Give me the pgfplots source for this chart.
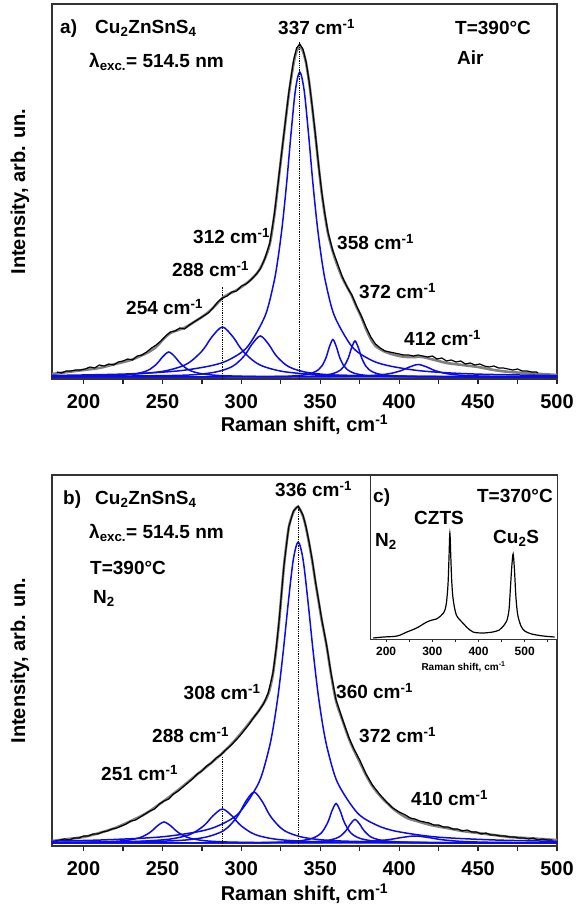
\documentclass[border=0pt]{standalone}
\usepackage{fontspec}
\setmainfont{Liberation Sans}
\usepackage{pgfplots}
\pgfplotsset{compat=1.18}
\newcommand{\fA}{\fontsize{20}{22}\selectfont\bfseries}
\newcommand{\fB}{\fontsize{19}{21}\selectfont\bfseries}
\newcommand{\fC}{\fontsize{12}{13}\selectfont\bfseries}
\newcommand{\fD}{\fontsize{10}{11}\selectfont\bfseries}
\newcommand{\cm}{cm\textsuperscript{-1}}
\definecolor{fitgray}{RGB}{128,128,128}
\definecolor{pblue}{RGB}{10,10,235}
\pgfplotsset{
  mainax/.style={
    scale only axis, width=505pt, xmin=180, xmax=500, ymin=0,
    ytick=\empty,
    xtick={200,250,...,500}, minor xtick={225,275,...,475},
    xtick pos=left, tick align=outside,
    major tick length=5pt, minor tick length=5pt,
    axis line style={line width=1.3pt, black!80},
    every tick/.style={black!85, line width=1.2pt},
    /pgf/number format/assume math mode=true,
    xticklabel style={font=\fA, anchor=base, yshift=-25pt},
    xlabel={Raman shift, \cm},
    ylabel={Intensity, arb. un.},
    label style={font=\fA},
    ylabel style={at={(axis description cs:-0.0634,0.5)}, anchor=center},
    clip=false,
  },
  comp/.style={pblue, line width=1.5pt, smooth},
  fit/.style={fitgray, line width=2.6pt, smooth},
  expt/.style={black, line width=1.2pt},
}
\begin{document}
\begin{tikzpicture}[x=1pt,y=1pt]
\path[use as bounding box] (0,0) rectangle (583,913);
% ---------------- panel a ----------------
\begin{axis}[mainax, at={(52pt,534pt)}, anchor=south west, height=375pt, ymax=375,
  xlabel style={at={(axis description cs:0.5,-0.141)}, anchor=base}]
\addplot[fit] coordinates {(180,5) (190,7) (200,9) (210,11) (220,15) (230,19) (240,26) (246,32) (250,39) (255,46) (260,49) (265,52) (270,57) (275,62) (280,68) (285,76) (288,81) (292,85) (296,88) (300,92) (305,98) (310,106) (314,117) (318,135) (321,165) (324,205) (327,245) (330,284) (333,315) (335,328) (337,332) (339,328) (341,316) (343,296) (345,270) (347,242) (349,212) (351,185) (353,163) (355,145) (358,127) (361,113) (364,101) (367,92) (370,83) (373,72) (376,62) (379,50) (382,40) (385,33) (390,28) (395,25) (400,23) (405,22) (410,22) (415,22) (420,20) (425,18) (430,16) (440,14) (450,12) (460,9) (470,7) (480,6) (490,5) (500,4)};
\addplot[expt] coordinates {(183,7) (186,6) (189,8) (192,8) (195,9) (198,9) (201,10) (204,12) (207,11) (210,14) (213,13) (216,15) (219,14) (222,17) (225,18) (228,20) (231,19) (234,23) (237,24) (240,27) (243,31) (246,34) (249,38) (252,43) (255,47) (258,48) (261,51) (264,50) (267,54) (270,57) (273,60) (276,63) (279,66) (282,71) (285,77) (288,81) (291,83) (294,87) (297,88) (300,93) (303,95) (306,99) (309,104) (312,110) (315,121) (318,136) (321,166) (324,206) (327,246) (330,286) (333,318) (335,331) (337,335) (339,330) (341,317) (343,297) (345,271) (347,243) (349,213) (351,186) (353,164) (355,146) (358,128) (361,115) (364,102) (367,92) (370,84) (373,73) (376,63) (379,52) (382,42) (385,35) (388,31) (391,28) (394,27) (397,26) (400,25) (403,24) (406,24) (409,23) (412,24) (415,23) (418,22) (421,23) (424,20) (427,21) (430,18) (433,19) (436,17) (439,18) (442,15) (445,16) (448,14) (451,15) (454,13) (457,12) (460,13) (463,11) (466,11) (469,10) (472,9) (475,10) (478,8) (481,8) (484,7) (487,7) (488,6)};
% components
\addplot[comp] coordinates {(180,2.3) (214,3.0) (230,4.5) (238,7) (242,9.7) (246,14.5) (248,18) (250,22) (254,27) (258,22) (260,18) (262,14.5) (266,9.7) (270,7) (278,4.5) (294,3.0) (334,2.25) (500,2.0)};
\addplot[comp] coordinates {(180,2.8) (220.5,3.9) (247.5,7) (261,12) (267.75,17.4) (274.5,27) (277.9,34) (281.25,42) (288,52) (294.75,42) (298.1,34) (301.5,27) (308.25,17.4) (315,12) (328.5,7) (355.5,3.9) (423,2.5) (500,2.2)};
\addplot[comp] coordinates {(180,2.3) (259.5,3.6) (280.5,6.1) (291,10.2) (296.25,14.6) (301.5,22.5) (304.1,28.2) (306.75,34.8) (312,43) (317.25,34.8) (319.9,28.2) (322.5,22.5) (327.75,14.6) (333,10.2) (343.5,6.1) (364.5,3.6) (417,2.4) (500,2.1)};
\addplot[comp] coordinates {(180,3.5) (227,5.0) (260,8.1) (282,13.7) (293,19.9) (304,32.5) (315,63) (320.5,95.8) (323.25,121) (326,154.5) (328.75,197) (331.5,246) (334.25,289) (337,307) (339.75,289) (342.5,246) (345.25,197) (348,154.5) (350.75,121) (353.5,95.8) (359,63) (370,32.5) (381,19.9) (392,13.7) (414,8.1) (447,5.0) (500,3.4)};
\addplot[comp] coordinates {(180,2.0) (313,2.4) (335.5,3.4) (344.5,5.75) (349,9.5) (351.25,13.5) (353.5,20.75) (354.6,26) (355.75,32) (358,39.5) (360.25,32) (361.4,26) (362.5,20.75) (364.75,13.5) (367,9.5) (371.5,5.75) (380.5,3.4) (403,2.4) (500,2.0)};
\addplot[comp] coordinates {(180,2.0) (327,2.4) (349.5,3.4) (358.5,5.6) (363,9.2) (365.25,13.1) (367.5,20) (368.6,25) (369.75,30.8) (372,38) (374.25,30.8) (375.4,25) (376.5,20) (378.75,13.1) (381,9.2) (385.5,5.6) (394.5,3.4) (417,2.4) (500,2.05)};
\addplot[comp] coordinates {(180,2.0) (302,2.1) (357,2.5) (379,3.25) (390,4.5) (395.5,5.85) (401,8.25) (403.75,10) (406.5,12) (412,14.5) (417.5,12) (420.25,10) (423,8.25) (428.5,5.85) (434,4.5) (445,3.25) (467,2.5) (500,2.2)};
\addplot[black, densely dotted, line width=0.8pt] coordinates {(337,0) (337,338)};
\addplot[black, densely dotted, line width=0.8pt] coordinates {(288,0) (288,92)};
\end{axis}
% ---------------- panel b ----------------
\begin{axis}[mainax, at={(52pt,67pt)}, anchor=south west, height=371pt, ymax=371,
  xlabel style={at={(axis description cs:0.5,-0.147)}, anchor=base}]
\addplot[fit] coordinates {(180,5) (190,7) (200,9) (210,13) (220,18) (230,25) (240,33) (250,44) (260,56) (270,69) (280,82) (288,93) (295,104) (302,117) (306,125) (310,133) (313,140) (316,148) (318,157) (320,172) (322,196) (324,226) (327,280) (330,318) (333,334) (336,339) (339,330) (341,318) (343,302) (345,284) (347,263) (349,244) (351,225) (354,200) (357,170) (360,145) (364,126) (368,108) (371,97) (375,84) (379,71) (383,60) (388,50) (393,42) (398,35) (405,28) (411,25) (420,21) (430,18) (440,15) (450,13) (460,11) (470,9) (480,8) (490,7) (500,6)};
\addplot[expt] coordinates {(182,5) (185,6) (188,7) (191,6) (194,8) (197,8) (200,10) (203,10) (206,12) (209,12) (212,14) (215,15) (218,17) (221,18) (224,20) (227,22) (230,25) (233,26) (236,29) (239,32) (242,35) (245,37) (248,42) (251,45) (254,47) (257,52) (260,55) (263,59) (266,63) (269,67) (272,72) (275,75) (278,80) (281,83) (284,88) (287,91) (290,96) (293,100) (296,105) (299,110) (302,116) (305,122) (308,129) (311,135) (314,142) (317,153) (320,173) (322,197) (324,227) (327,281) (330,319) (333,335) (336,340) (339,331) (341,319) (343,303) (345,285) (347,264) (349,245) (351,226) (354,201) (357,171) (360,146) (364,127) (368,109) (371,98) (375,86) (379,72) (383,61) (388,51) (392,44) (396,38) (400,34) (404,31) (407,28) (410,27) (413,25) (416,24) (419,23) (422,21) (425,21) (428,19) (431,19) (434,17) (437,17) (440,15) (443,16) (446,14) (449,14) (452,12) (455,13) (458,11) (461,11) (464,10) (467,10) (470,9) (473,9) (476,8) (479,8) (482,7) (485,8) (488,6) (491,7) (494,6) (497,6)};
\addplot[comp] coordinates {(180,3.3) (206,3.8) (224,5.1) (233,7.2) (237.5,9.5) (242,13.5) (244.25,16.4) (246.5,19.8) (251,24) (255.5,19.8) (257.75,16.4) (260,13.5) (264.5,9.5) (269,7.2) (278,5.1) (296,3.8) (341,3.2) (500,3.0)};
\addplot[comp] coordinates {(180,3.4) (228,4.3) (252,6.4) (264,9.8) (270,13.5) (276,20) (279,24.8) (282,30.2) (288,37) (294,30.2) (297,24.8) (300,20) (306,13.5) (312,9.8) (324,6.4) (348,4.3) (408,3.3) (500,3.1)};
\addplot[comp] coordinates {(180,3.4) (253,5.0) (275,8.1) (286,13.2) (291.5,18.7) (297,28.5) (299.75,35.6) (302.5,43.8) (308,54) (313.5,43.8) (316.25,35.6) (319,28.5) (324.5,18.7) (330,13.2) (341,8.1) (363,5.0) (418,3.5) (500,3.2)};
\addplot[comp] coordinates {(180,4.9) (211,6.0) (248.5,9.0) (273.5,14.6) (286,20.7) (298.5,33.1) (311,63.2) (317.25,95.6) (320.4,120.5) (323.5,153.5) (326.6,195.6) (329.75,243.8) (332.9,286.3) (336,304) (339.1,286.3) (342.25,243.8) (345.4,195.6) (348.5,153.5) (351.6,120.5) (354.75,95.6) (361,63.2) (373.5,33.1) (386,20.7) (398.5,14.6) (423.5,9.0) (461,6.0) (500,4.7)};
\addplot[comp] coordinates {(180,3.0) (305,3.4) (332.5,4.5) (343.5,7.0) (349,10.9) (351.75,15.2) (354.5,22.8) (355.9,28.3) (357.25,34.6) (360,42.5) (362.75,34.6) (364.1,28.3) (365.5,22.8) (368.25,15.2) (371,10.9) (376.5,7.0) (387.5,4.5) (415,3.4) (500,3.1)};
\addplot[comp] coordinates {(180,3.0) (312,3.2) (342,3.9) (354,5.4) (360,7.7) (363,10.2) (366,14.8) (367.5,18) (369,21.8) (372,26.5) (375,21.8) (376.5,18) (378,14.8) (381,10.2) (384,7.7) (390,5.4) (402,3.9) (432,3.2) (500,3.1)};
\addplot[comp] coordinates {(180,3.0) (250,3.1) (330,3.3) (362,3.7) (378,4.4) (386,5.2) (394,6.5) (402,8.6) (410,10) (418,8.6) (426,6.5) (434,5.2) (442,4.4) (458,3.7) (490,3.3) (500,3.2)};
\addplot[black, densely dotted, line width=0.8pt] coordinates {(336,0) (336,340)};
\addplot[black, densely dotted, line width=0.8pt] coordinates {(288,0) (288,90)};
\end{axis}
% ---------------- inset c ----------------
\begin{axis}[scale only axis, at={(370pt,274pt)}, anchor=south west, width=187pt, height=164pt,
  xmin=165, xmax=570, ymin=0, ymax=164, ytick=\empty,
  xtick={200,300,400,500}, minor xtick={250,350,450,550},
  xtick pos=left, tick align=outside, major tick length=3pt, minor tick length=3pt,
  axis line style={line width=0.9pt, black!80}, every tick/.style={black!85, line width=0.9pt},
  axis background/.style={fill=white},
  /pgf/number format/assume math mode=true,
  xticklabel style={font=\fC, anchor=base, yshift=-14pt},
  xlabel={Raman shift, \cm}, xlabel style={font=\fD, at={(axis description cs:0.5,-0.19)}, anchor=base},
  clip=false]
\addplot[black, line width=1.2pt, smooth] coordinates {(172,1) (195,2) (224,3) (245,7) (266,11) (288,17) (300,19) (309,20) (318,23) (324,26) (328,30) (331,38) (334,55) (336,80) (338,106) (340,82) (342,58) (345,40) (352,24) (366,16) (374,12) (388,7) (409,6) (431,7) (445,9) (452,12) (461,18) (466,29) (469,50) (472,72) (475,85) (478,68) (481,42) (485,24) (492,13) (500,8) (515,5) (540,3) (565,2)};
\end{axis}
% ---------------- annotations ----------------
\begin{scope}[every node/.style={font=\fB, inner sep=0pt}]
% panel a
\node[anchor=base west] at (60,879.5) {a)};
\node[anchor=base west] at (95,879.5) {Cu\textsubscript{2}ZnSnS\textsubscript{4}};
\node[anchor=base west] at (89,845.5) {λ\textsubscript{exc.}= 514.5 nm};
\node[anchor=base west] at (278,878) {337 \cm};
\node[anchor=base west] at (455,878) {T=390°C};
\node[anchor=base west] at (457,848.5) {Air};
\node[anchor=base west] at (193,669.5) {312 \cm};
\node[anchor=base west] at (172,636.5) {288 \cm};
\node[anchor=base west] at (126,598.5) {254 \cm};
\node[anchor=base west] at (337,663.5) {358 \cm};
\node[anchor=base west] at (359,614.5) {372 \cm};
\node[anchor=base west] at (404,567.5) {412 \cm};
% panel b
\node[anchor=base west] at (63,408.5) {b)};
\node[anchor=base west] at (95,408.5) {Cu\textsubscript{2}ZnSnS\textsubscript{4}};
\node[anchor=base west] at (89,374.5) {λ\textsubscript{exc.}= 514.5 nm};
\node[anchor=base west] at (90,338.5) {T=390°C};
\node[anchor=base west] at (93,309.5) {N\textsubscript{2}};
\node[anchor=base west] at (275,416.5) {336 \cm};
\node[anchor=base west] at (183.5,213.5) {308 \cm};
\node[anchor=base west] at (152,170.5) {288 \cm};
\node[anchor=base west] at (101,132.5) {251 \cm};
\node[anchor=base west] at (336,214.5) {360 \cm};
\node[anchor=base west] at (359,170.5) {372 \cm};
\node[anchor=base west] at (411,107.5) {410 \cm};
% inset
\node[anchor=base west] at (373,410) {c)};
\node[anchor=base east] at (553,410) {T=370°C};
\node[anchor=base west] at (414,388.5) {CZTS};
\node[anchor=base west] at (375,366.5) {N\textsubscript{2}};
\node[anchor=base west] at (493,369.5) {Cu\textsubscript{2}S};
\end{scope}
\end{tikzpicture}
\end{document}
